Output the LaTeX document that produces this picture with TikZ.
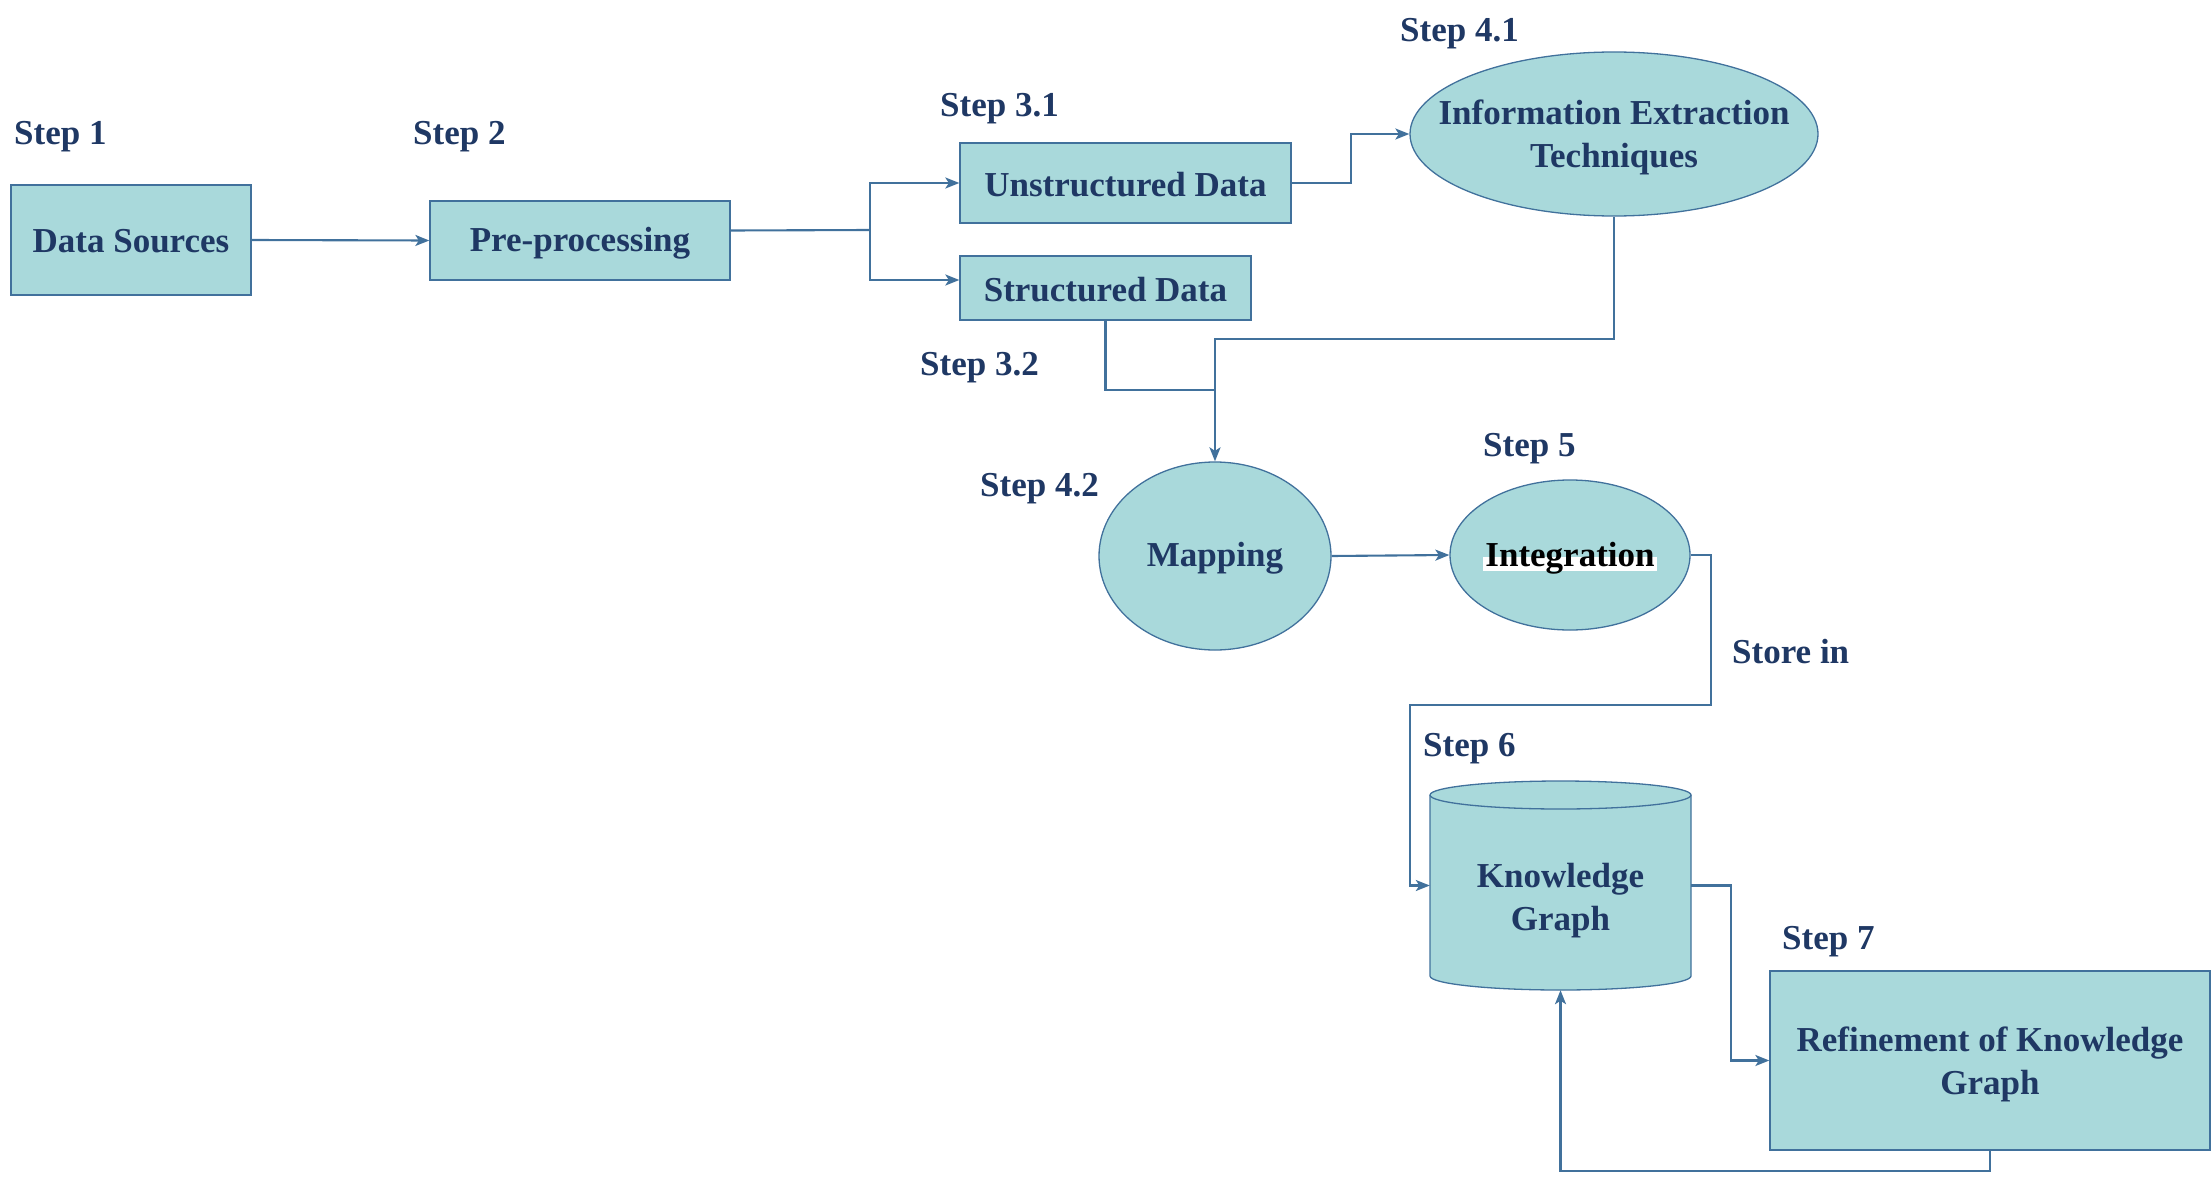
\documentclass[tikz,border=0pt]{standalone}
\usepackage{fontspec}
\setmainfont{Liberation Serif}
\usetikzlibrary{arrows.meta,calc,shapes.geometric}
\definecolor{boxfill}{HTML}{A9D9DB}
\definecolor{boxline}{HTML}{41719C}
\definecolor{navy}{HTML}{1F3864}
\begin{document}
\begin{tikzpicture}[x=1pt,y=-1pt,
  every node/.style={font=\fontsize{35}{43}\selectfont\bfseries, text=navy},
  procbox/.style={draw=boxline, fill=boxfill, line width=1.3pt, inner sep=0pt, align=center},
  ellip/.style={ellipse, draw=boxline, fill=boxfill, line width=1.3pt, inner sep=0pt},
  txt/.style={inner sep=0pt, align=center},
  steplbl/.style={anchor=west, inner sep=0pt},
  conn/.style={draw=boxline, line width=2.1pt},
  arr/.style={conn, -{Stealth[length=14pt, width=11pt, inset=3.5pt]}}
]
\useasboundingbox (0,0) rectangle (2211,1180);

% step labels
\node[steplbl] (s1) at (14,137) {Step 1};
\node[steplbl] (s2) at (413,137) {Step 2};
\node[steplbl] (s31) at (940,109) {Step 3.1};
\node[steplbl] (s32) at (920,368) {Step 3.2};
\node[steplbl] (s41) at (1400,34) {Step 4.1};
\node[steplbl] (s42) at (980,489) {Step 4.2};
\node[steplbl] (s5) at (1483,449) {Step 5};
\node[steplbl] (s6) at (1423,749) {Step 6};
\node[steplbl] (s7) at (1782,942) {Step 7};
\node[steplbl] (store) at (1732,652) {Store in};

% boxes
\node[procbox, minimum width=240pt, minimum height=110pt] (ds) at (131,240) {};
\node[txt] (dstext) at (131,241) {Data Sources};
\node[procbox, minimum width=300pt, minimum height=79pt] (pp) at (580,240.5) {};
\node[txt] (pptext) at (580,243.5) {Pre-processing};
\node[procbox, minimum width=331pt, minimum height=80pt] (ud) at (1125.5,183) {};
\node[txt] (udtext) at (1125.5,185) {Unstructured Data};
\node[procbox, minimum width=291pt, minimum height=64pt] (sd) at (1105.5,288) {};
\node[txt] (sdtext) at (1105.5,290) {Structured Data};

% ellipses
\node[ellip, minimum width=408pt, minimum height=164pt] (ie) at (1614,134) {};
\node[txt] (ietext) at (1614,137) {Information Extraction\\Techniques};
\node[ellip, minimum width=232pt, minimum height=188pt] (map) at (1215,556) {};
\node[txt] (maptext) at (1215,558) {Mapping};
\node[ellip, minimum width=240pt, minimum height=150pt] (int) at (1570,555) {};
\fill[white] (1483,557) rectangle (1657,571);
\node[txt, text=black] (inttext) at (1570,558) {Integration};

% cylinder
\fill[boxfill] (1430,795) -- (1430,976) arc[start angle=180, end angle=0, x radius=130.5, y radius=14]
  -- (1691,795) arc[start angle=0, end angle=-180, x radius=130.5, y radius=14] -- cycle;
\draw[boxline, line width=1.3pt] (1430,795) -- (1430,976) arc[start angle=180, end angle=0, x radius=130.5, y radius=14] -- (1691,795);
\draw[boxline, line width=1.3pt] (1560.5,795) ellipse[x radius=130.5, y radius=14];
\node[inner sep=0pt, minimum width=261pt, minimum height=209pt] (kg) at (1560.5,885.5) {};
\node[txt] (kgtext) at (1560.5,901) {Knowledge\\Graph};

\node[procbox, minimum width=440pt, minimum height=179pt] (ref) at (1990,1060.5) {};
\node[txt] (reftext) at (1990,1064) {Refinement of Knowledge\\Graph};

% connectors
\coordinate (ppout) at ($(pp.east)+(0,-10)$);
\coordinate (split) at (870,230);
\coordinate (sdin) at ($(sd.west)+(0,-8)$);
\coordinate (join) at (1215,390);
\coordinate (intr) at (1711,705);
\coordinate (intl) at (1410,705);
\coordinate (kgr) at (1731,886);

\draw[arr] (ds.east) -- (pp.west);
\draw[conn] (ppout) -- (split);
\draw[arr] (split) |- (ud.west);
\draw[arr] (split) |- (sdin);
\draw[arr] (ud.east) -- ++(59,0) |- (ie.west);
\draw[arr] (ie.south) -- ++(0,122) -| (map.north);
\draw[conn] (sd.south) |- (join);
\draw[arr] (map.east) -- (int.west);
\draw[arr] (int.east) -| (intr) -- (intl) |- (kg.west);
\draw[arr] (kg.east) -| (kgr) |- (ref.west);
\draw[arr] (ref.south) -- ++(0,20) -| (kg.south);
\end{tikzpicture}
\end{document}
